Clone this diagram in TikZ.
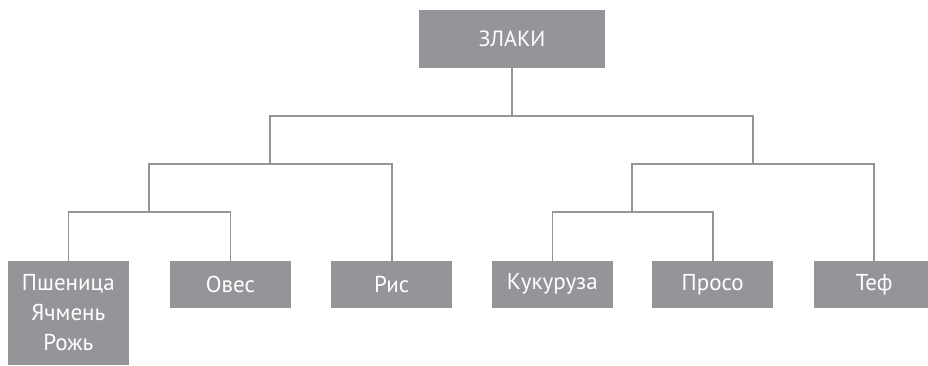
\documentclass[tikz,border=0pt]{standalone}
\usepackage{fontspec}
\setmainfont{PT Sans}
\definecolor{boxgray}{HTML}{939598}
\definecolor{linegray}{HTML}{939598}
\tikzset{
  cbox/.style={fill=boxgray, text=white, inner sep=0pt, minimum width=120.5pt, minimum height=47pt,
    font=\fontsize{23}{30}\selectfont, align=center},
  conn/.style={draw=linegray, line width=1.6pt}
}
\begin{document}
\begin{tikzpicture}[x=1pt,y=-1pt]
\useasboundingbox (0,0) rectangle (928,366);
\node[cbox, minimum width=186pt, minimum height=58pt, font=\fontsize{22}{29}\selectfont] (top) at (512,39) {ЗЛАКИ};
\node[cbox, minimum height=104.5pt] (pshen) at (68.3,313) {Пшеница\\Ячмень\\Рожь};
\node[cbox] (oves) at (230.5,284.3) {Овес};
\node[cbox] (ris) at (391.7,284.3) {Рис};
\node[cbox] (kuk) at (552.3,284.3) {Кукуруза};
\node[cbox] (proso) at (712.7,284.3) {Просо};
\node[cbox] (tef) at (874,284.3) {Теф};
\coordinate (L1) at (0,116);
\coordinate (gL) at (270,164);
\coordinate (gR) at (753,164);
\coordinate (gLL) at (149,212);
\coordinate (gRL) at (632,212);
\draw[conn] (top.south) -- (top.south |- L1) -| (gL) -| (gLL) -| (pshen.north);
\draw[conn] (gLL) -| (oves.north);
\draw[conn] (gL) -| (ris.north);
\draw[conn] (top.south |- L1) -| (gR) -| (gRL) -| (kuk.north);
\draw[conn] (gRL) -| (proso.north);
\draw[conn] (gR) -| (tef.north);
\end{tikzpicture}
\end{document}
